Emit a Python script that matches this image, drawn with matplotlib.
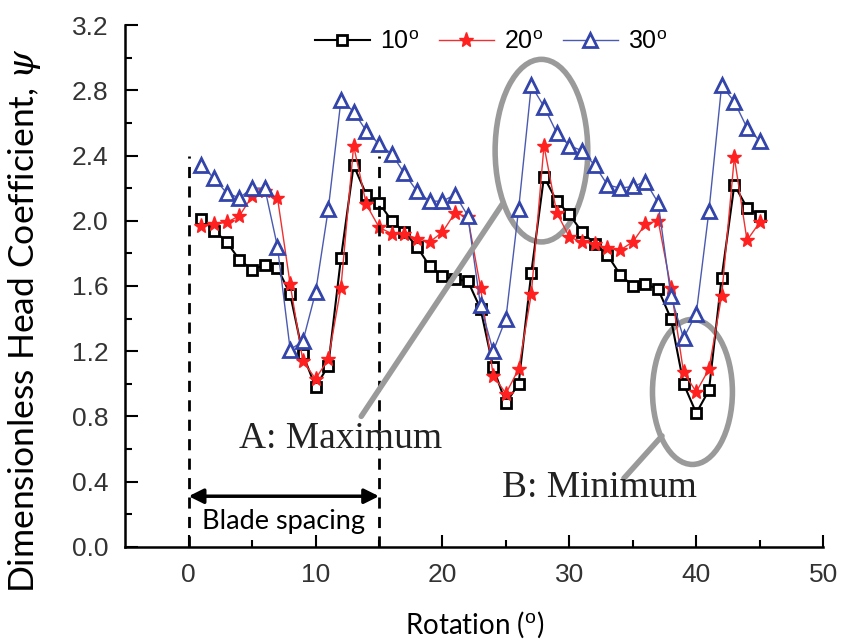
import matplotlib.pyplot as plt
from matplotlib.patches import Ellipse

plt.rcParams['font.family'] = ['Liberation Sans', 'DejaVu Sans']
plt.rcParams['mathtext.fontset'] = 'custom'
plt.rcParams['mathtext.rm'] = 'Liberation Sans'
plt.rcParams['mathtext.it'] = 'DejaVu Serif:italic'

# rotation angle (deg), one point per degree
rotation = list(range(1, 46))

head_10 = [2.01, 1.94, 1.87, 1.76, 1.70, 1.73, 1.71, 1.55, 1.18, 0.98,
           1.11, 1.77, 2.34, 2.16, 2.11, 2.00, 1.93, 1.84, 1.72, 1.66,
           1.64, 1.63, 1.46, 1.10, 0.88, 1.00, 1.68, 2.27, 2.12, 2.04,
           1.93, 1.86, 1.79, 1.67, 1.60, 1.61, 1.58, 1.40, 1.00, 0.82,
           0.96, 1.65, 2.22, 2.08, 2.03]
head_20 = [1.97, 1.98, 1.99, 2.03, 2.15, 2.18, 2.14, 1.61, 1.14, 1.03,
           1.15, 1.59, 2.46, 2.10, 1.96, 1.92, 1.92, 1.89, 1.87, 1.93,
           2.05, 2.02, 1.59, 1.05, 0.94, 1.09, 1.55, 2.46, 2.05, 1.90,
           1.87, 1.86, 1.83, 1.82, 1.87, 1.98, 2.00, 1.59, 1.07, 0.95,
           1.09, 1.54, 2.39, 1.88, 1.99]
head_30 = [2.34, 2.26, 2.17, 2.14, 2.20, 2.20, 1.84, 1.21, 1.26, 1.56,
           2.07, 2.74, 2.67, 2.55, 2.47, 2.41, 2.29, 2.18, 2.12, 2.12,
           2.16, 2.03, 1.48, 1.20, 1.40, 2.07, 2.83, 2.70, 2.54, 2.46,
           2.43, 2.34, 2.22, 2.20, 2.21, 2.24, 2.11, 1.54, 1.28, 1.43,
           2.06, 2.83, 2.73, 2.57, 2.49]

labels = ['10$^{\\rm o}$', '20$^{\\rm o}$', '30$^{\\rm o}$']
blade_edges = [0, 15]

fig = plt.figure(figsize=(8.46, 6.44), dpi=100)
ax = fig.add_axes([0.148, 0.151, 0.825, 0.810])

ax.plot(rotation, head_10, color='black', lw=1.5, marker='s', ms=7,
        mfc='white', mec='black', mew=2, label=labels[0])
ax.plot(rotation, head_20, color='#f03030', lw=1, marker='*', ms=11,
        mfc='#ff2020', mec='#ff2020', label=labels[1])
ax.plot(rotation, head_30, color='#4a5ab0', lw=1, marker='^', ms=10,
        mfc='white', mec='#3344aa', mew=2, label=labels[2])

# blade spacing markers
for xb in blade_edges:
    ax.plot([xb, xb], [0, 2.4], color='black', lw=2, ls=(0, (4, 3)))
ax.annotate('', xy=(blade_edges[0], 0.31), xytext=(blade_edges[1], 0.31),
            arrowprops=dict(arrowstyle='<|-|>', color='black', lw=2.5,
                            mutation_scale=22, shrinkA=0, shrinkB=0))
ax.text(7.5, 0.155, 'Blade spacing', ha='center', va='center',
        fontsize=19.5, family='Lato', color='black')

# highlight ellipses
grey = '#9a9a9a'
ax.add_patch(Ellipse((27.8, 2.43), 7.3, 1.12, fill=False, ec=grey, lw=4))
ax.add_patch(Ellipse((39.7, 0.95), 6.3, 0.89, fill=False, ec=grey, lw=4))
ax.plot([24.7, 13.6], [2.10, 0.80], color=grey, lw=4, solid_capstyle='round')
ax.plot([37.3, 34.3], [0.68, 0.42], color=grey, lw=4, solid_capstyle='round')
ax.text(12.0, 0.66, 'A: Maximum', ha='center', va='center',
        fontsize=27, family='Liberation Serif', color='#222222')
ax.text(32.4, 0.36, 'B: Minimum', ha='center', va='center',
        fontsize=27, family='Liberation Serif', color='#222222')

ax.set_xlim(-5, 50)
ax.set_ylim(0, 3.2)
ax.set_xticks([0, 10, 20, 30, 40, 50])
ax.set_xticks([5, 15, 25, 35, 45], minor=True)
ax.set_yticks([0.0, 0.4, 0.8, 1.2, 1.6, 2.0, 2.4, 2.8, 3.2])
ax.set_yticks([0.2, 0.6, 1.0, 1.4, 1.8, 2.2, 2.6, 3.0], minor=True)
ax.set_yticklabels(['%.1f' % v for v in ax.get_yticks()])
ax.tick_params(which='major', direction='in', length=9, width=1.5,
               labelsize=19, labelcolor='#333333', pad=12)
ax.tick_params(which='minor', direction='in', length=5, width=1.5)
for s in ['top', 'right']:
    ax.spines[s].set_visible(False)
for s in ['left', 'bottom']:
    ax.spines[s].set_linewidth(1.8)

ax.set_xlabel('Rotation ($^{\\rm o}$)', fontsize=20, family=['Lato', 'DejaVu Sans'],
              labelpad=16)
ax.set_ylabel('Dimensionless Head Coefficient, $\\psi$', fontsize=25.5,
              family=['Lato', 'DejaVu Sans'])
ax.yaxis.set_label_coords(-0.118, 0.433)

fig.legend(loc='center', bbox_to_anchor=(0.580, 0.935), ncol=3, frameon=False,
           fontsize=18, handlelength=2.2, handletextpad=0.4, columnspacing=0.8)

fig.savefig('out.png', dpi=100)
